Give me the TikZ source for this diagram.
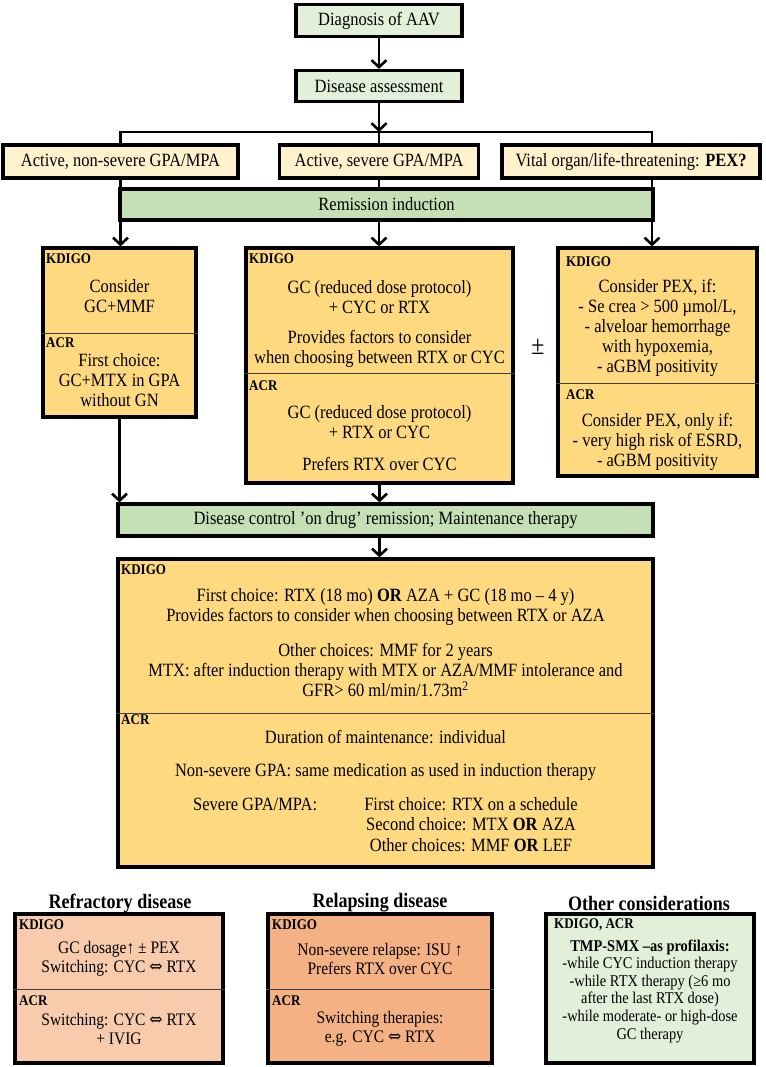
\documentclass[tikz,border=0pt]{standalone}
\usepackage{fontspec}
\setmainfont{Liberation Serif}[FakeStretch=0.88]
\newfontfamily\MyArrFont{DejaVu Serif}[FakeStretch=0.9]
\usetikzlibrary{arrows.meta}
\definecolor{cLG}{HTML}{E2EFD9}
\definecolor{cMG}{HTML}{C5E0B4}
\definecolor{cCream}{HTML}{FFF2CC}
\definecolor{cGold}{HTML}{FFD97F}
\definecolor{cPeach}{HTML}{F8CBAD}
\definecolor{cOrange}{HTML}{F4B183}
\newcommand{\MyMainFs}{\fontsize{18.75}{20}\selectfont}
\newcommand{\MyLabFs}{\fontsize{14.8}{15}\selectfont\bfseries}
\newcommand{\MyBotFs}{\fontsize{17.6}{19}\selectfont}
\newcommand{\MySmFs}{\fontsize{16.4}{17.6}\selectfont}
\newcommand{\MyHeadFs}{\fontsize{20.5}{21}\selectfont\bfseries}
\newcommand{\MyLR}{{\MyArrFont ⇔}}
\tikzset{
  bx/.style={draw=black, line width=3.2pt, inner sep=0pt, align=center, font=\MyMainFs},
  txt/.style={inner sep=0pt, align=center, font=\MyMainFs},
  lab/.style={inner sep=0pt, anchor=west, font=\MyLabFs},
  conn/.style={line width=2.6pt},
  arr/.style={line width=2.6pt, -{Straight Barb[length=7pt,width=15pt]}},
  divline/.style={line width=1pt, draw=black!75},
}
\begin{document}
\begin{tikzpicture}[x=1pt,y=-1pt]
\useasboundingbox (0,0) rectangle (765,1067);

% top
\node[bx, fill=cLG, minimum width=166, minimum height=32] (diag) at (379,20.5) {Diagnosis of AAV};
\node[bx, fill=cLG, minimum width=166, minimum height=31] (assess) at (379,86) {Disease assessment};

\node[bx, fill=cCream, minimum width=235, minimum height=33] (act1) at (120.5,161.5) {Active, non-severe GPA/MPA};
\node[bx, fill=cCream, minimum width=199, minimum height=33] (act2) at (379,161.5) {Active, severe GPA/MPA};
\node[bx, fill=cCream, minimum width=258, minimum height=33] (act3) at (631,161.5) {Vital organ/life-threatening: \textbf{PEX?}};

\coordinate (bC) at (379,132);
\coordinate (bL) at (120.5,132);
\coordinate (bR) at (652,132);

\draw[arr] (diag) -- (assess);
\draw[arr] (assess) -- (bC);
\draw[conn] (act1.north -| bL) -- (bL) -- (bR) -- (act3.north -| bR);
\draw[conn] (bC) -- (act2.north);

\node[bx, fill=cMG, minimum width=533, minimum height=31] (rem) at (386.5,204.5) {Remission induction};

\draw[conn] (act1.south) -- (act1.south |- rem.north);
\draw[conn] (act2.south) -- (act2.south |- rem.north);
\draw[conn] (act3.south -| bR) -- (rem.north -| bR);

% induction boxes
\node[bx, fill=cGold, minimum width=153, minimum height=169] (lbox) at (119.5,332.5) {};
\node[bx, fill=cGold, minimum width=267, minimum height=235] (mbox) at (379.5,365.5) {};
\node[bx, fill=cGold, minimum width=199, minimum height=228] (rbox) at (657.5,362) {};

\draw[arr] (rem.south -| act1) -- (lbox.north -| act1);
\draw[arr] (rem.south -| act2) -- (mbox.north -| act2);
\draw[arr] (rem.south -| bR) -- (rbox.north -| bR);

\draw[divline] (lbox.west |- 0,333) -- (lbox.east |- 0,333);
\draw[divline] (mbox.west |- 0,373) -- (mbox.east |- 0,373);
\draw[divline] (rbox.west |- 0,383) -- (rbox.east |- 0,383);

\node[lab] (lk) at (46,259) {KDIGO};
\node[txt] (lt1) at (119.5,296.5) {Consider\\GC+MMF};
\node[lab] (la) at (46,343) {ACR};
\node[txt] (lt2) at (119.5,380.5) {First choice:\\GC+MTX in GPA\\without GN};

\node[lab] (mk) at (249,259) {KDIGO};
\node[txt] (mt1) at (379.5,297) {GC (reduced dose protocol)\\+ CYC or RTX};
\node[txt] (mt2) at (379.5,349) {Provides factors to consider\\when choosing between RTX or CYC};
\node[lab] (ma) at (249,386) {ACR};
\node[txt] (mt3) at (379.5,422) {GC (reduced dose protocol)\\+ RTX or CYC};
\node[txt] (mt4) at (379.5,464) {Prefers RTX over CYC};

\node[inner sep=0pt, font=\fontsize{27}{28}\selectfont] (pm) at (538,347) {±};

\node[lab] (rk) at (566,262) {KDIGO};
\node[txt] (rt1) at (657.5,327.5) {Consider PEX, if:\\- Se crea > 500 µmol/L,\\- alveloar hemorrhage\\with hypoxemia,\\- aGBM positivity};
\node[lab] (ra) at (566,395) {ACR};
\node[txt] (rt2) at (657.5,441.5) {Consider PEX, only if:\\- very high risk of ESRD,\\- aGBM positivity};

% maintenance
\node[bx, fill=cMG, minimum width=535, minimum height=32] (maint) at (385.5,520) {Disease control ’on drug’ remission; Maintenance therapy};
\draw[arr] (lbox.south) -- (lbox.south |- maint.north);
\draw[arr] (mbox.south) -- (mbox.south |- maint.north);

\node[bx, fill=cGold, minimum width=535, minimum height=308] (big) at (385.5,713) {};
\draw[arr] (maint.south -| mbox) -- (big.north -| mbox);
\draw[divline] (big.west |- 0,713) -- (big.east |- 0,713);

\node[lab] (bk) at (121,570) {KDIGO};
\node[txt] (bt1) at (385.5,607) {First choice: RTX (18 mo) \textbf{OR} AZA + GC (18 mo – 4 y)\\Provides factors to consider when choosing between RTX or AZA};
\node[txt] (bt2) at (385.5,670) {Other choices: MMF for 2 years\\MTX: after induction therapy with MTX or AZA/MMF intolerance and\\GFR> 60 ml/min/1.73m\textsuperscript{2}};
\node[lab] (ba) at (121,720) {ACR};
\node[txt] (bt3) at (385.5,737) {Duration of maintenance: individual};
\node[txt] (bt4) at (385.5,772) {Non-severe GPA: same medication as used in induction therapy};
\node[txt, anchor=west] (bt5) at (193,804) {Severe GPA/MPA:};
\node[txt, font=\fontsize{18.75}{20.5}\selectfont] (bt6) at (471,824.5) {First choice: RTX on a schedule\\Second choice: MTX \textbf{OR} AZA\\Other choices: MMF \textbf{OR} LEF};

% bottom
\node[inner sep=0pt, font=\MyHeadFs] (h1) at (120,903) {Refractory disease};
\node[inner sep=0pt, font=\MyHeadFs] (h2) at (380,903) {Relapsing disease};
\node[inner sep=0pt, font=\MyHeadFs] (h3) at (649,903) {Other considerations};

\node[bx, fill=cPeach, minimum width=208, minimum height=149] (refr) at (119,988.5) {};
\node[bx, fill=cOrange, minimum width=224, minimum height=149] (relap) at (380,988.5) {};
\node[bx, fill=cLG, minimum width=208, minimum height=149] (other) at (650,988.5) {};
\draw[divline] (refr.west |- 0,989) -- (refr.east |- 0,989);
\draw[divline] (relap.west |- 0,989) -- (relap.east |- 0,989);

\node[lab] (fk) at (19,925) {KDIGO};
\node[txt, font=\MyBotFs] (ft1) at (119,958.5) {GC dosage↑ ± PEX\\Switching: CYC \MyLR{} RTX};
\node[lab] (fa) at (19,1001) {ACR};
\node[txt, font=\MyBotFs] (ft2) at (119,1029.5) {Switching: CYC \MyLR{} RTX\\+ IVIG};

\node[lab] (pk) at (272,925) {KDIGO};
\node[txt, font=\MyBotFs] (pt1) at (380,959) {Non-severe relapse: ISU ↑\\Prefers RTX over CYC};
\node[lab] (pa) at (272,1001) {ACR};
\node[txt, font=\MyBotFs] (pt2) at (380,1029) {Switching therapies:\\e.g. CYC \MyLR{} RTX};

\node[lab] (ok) at (554,925) {KDIGO, ACR};
\node[txt, font=\MySmFs] (ot) at (650,991) {\textbf{TMP-SMX –as profilaxis:}\\-while CYC induction therapy\\-while RTX therapy (≥6 mo\\after the last RTX dose)\\-while moderate- or high-dose\\GC therapy};
\end{tikzpicture}
\end{document}
